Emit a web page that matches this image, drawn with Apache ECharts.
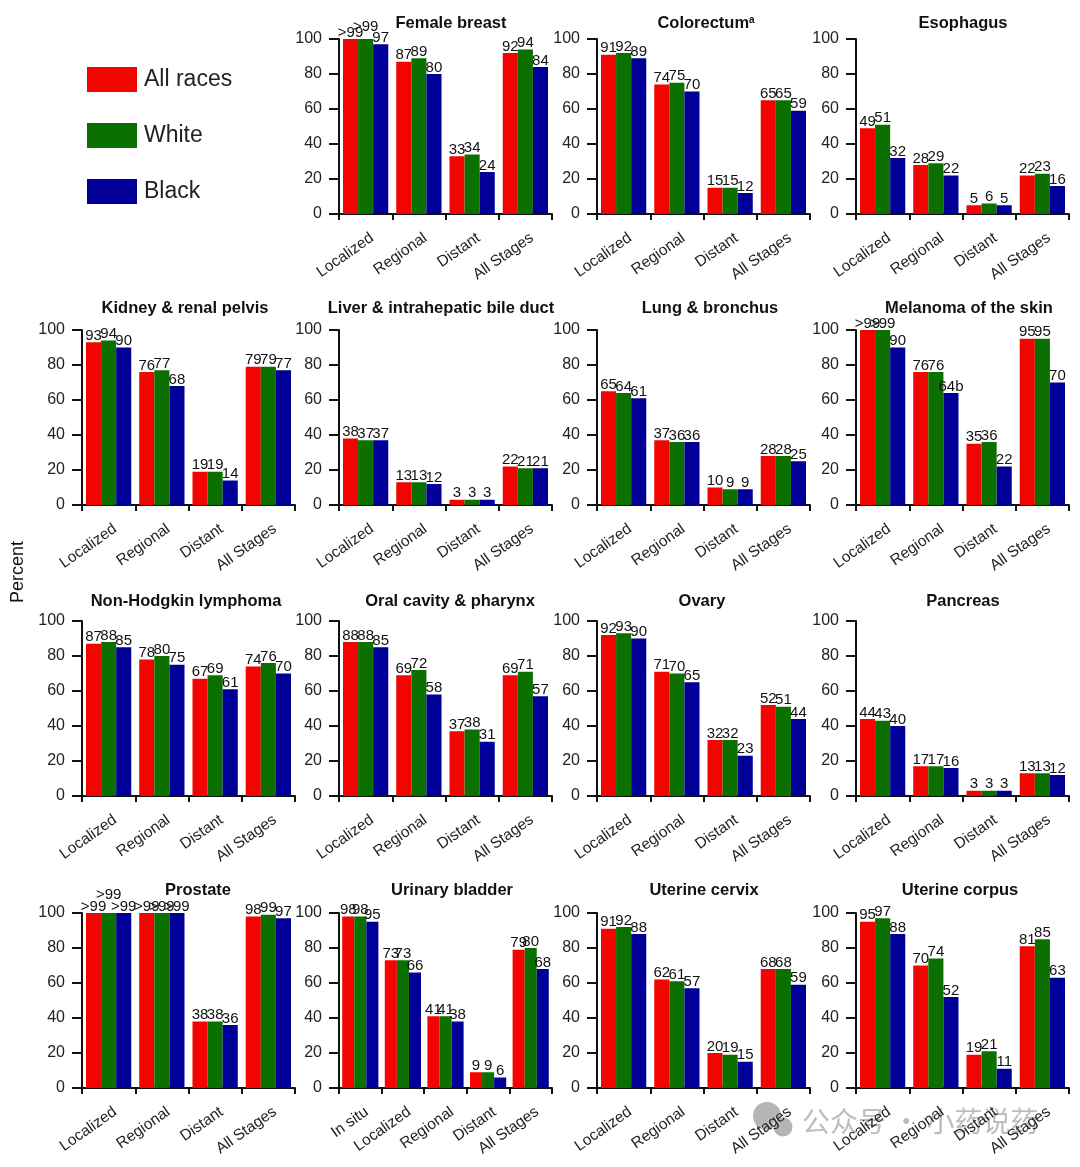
<!DOCTYPE html>
<html><head><meta charset="utf-8">
<style>html,body{margin:0;padding:0;background:#fff}#c{width:1080px;height:1167px}</style>
<script src="https://cdn.jsdelivr.net/npm/echarts@6/dist/echarts.min.js"></script>
</head><body><div id="c"></div>
<script>
const raceNames = ['All races', 'White', 'Black'];
const stages = ['Localized', 'Regional', 'Distant', 'All Stages'];
const bladderStages = ['In situ', 'Localized', 'Regional', 'Distant', 'All Stages'];

const femaleBreast = [[100,87,33,92],[100,89,34,94],[97,80,24,84]];
const colorectum   = [[91,74,15,65],[92,75,15,65],[89,70,12,59]];
const esophagus    = [[49,28,5,22],[51,29,6,23],[32,22,5,16]];
const kidney       = [[93,76,19,79],[94,77,19,79],[90,68,14,77]];
const liver        = [[38,13,3,22],[37,13,3,21],[37,12,3,21]];
const lung         = [[65,37,10,28],[64,36,9,28],[61,36,9,25]];
const melanoma     = [[100,76,35,95],[100,76,36,95],[90,64,22,70]];
const lymphoma     = [[87,78,67,74],[88,80,69,76],[85,75,61,70]];
const oral         = [[88,69,37,69],[88,72,38,71],[85,58,31,57]];
const ovary        = [[92,71,32,52],[93,70,32,51],[90,65,23,44]];
const pancreas     = [[44,17,3,13],[43,17,3,13],[40,16,3,12]];
const prostate     = [[100,100,38,98],[100,100,38,99],[100,100,36,97]];
const bladder      = [[98,73,41,9,79],[98,73,41,9,80],[95,66,38,6,68]];
const cervix       = [[91,62,20,68],[92,61,19,68],[88,57,15,59]];
const corpus       = [[95,70,19,81],[97,74,21,85],[88,52,11,63]];

// Panels in reading order: title, values, categories, grid column, grid row, title centre x
const panels = [
  ['{b|Female breast}', femaleBreast, stages, 1, 0, 451],
  ['{b|Colorectum}{s|a}', colorectum, stages, 2, 0, 706],
  ['{b|Esophagus}', esophagus, stages, 3, 0, 963],
  ['{b|Kidney & renal pelvis}', kidney, stages, 0, 1, 185],
  ['{b|Liver & intrahepatic bile duct}', liver, stages, 1, 1, 441],
  ['{b|Lung & bronchus}', lung, stages, 2, 1, 710],
  ['{b|Melanoma of the skin}', melanoma, stages, 3, 1, 969],
  ['{b|Non-Hodgkin lymphoma}', lymphoma, stages, 0, 2, 186],
  ['{b|Oral cavity & pharynx}', oral, stages, 1, 2, 450],
  ['{b|Ovary}', ovary, stages, 2, 2, 702],
  ['{b|Pancreas}', pancreas, stages, 3, 2, 963],
  ['{b|Prostate}', prostate, stages, 0, 3, 198],
  ['{b|Urinary bladder}', bladder, bladderStages, 1, 3, 452],
  ['{b|Uterine cervix}', cervix, stages, 2, 3, 704],
  ['{b|Uterine corpus}', corpus, stages, 3, 3, 960]
];

const colLeft = [82, 339, 597, 856];
const rowTop = [39, 330, 621, 913];
const titleTop = [15, 300, 593, 882];
const colors = ['#f40400', '#0b7000', '#000098'];
const font = '"Liberation Sans", Arial, sans-serif';

function labelFor(p, race, i, v) {
  if (p === melanoma && race === 2 && i === 1) return '64b';
  return v === 100 ? '>99' : String(v);
}
function raiseFor(p, race, i) {
  if (p === prostate && race === 1 && i === 0) return -12;
  if (p === femaleBreast && race === 1 && i === 0) return -6;
  return 0;
}

const option = {
  animation: false,
  backgroundColor: '#fff',
  textStyle: { fontFamily: font },
  legend: {
    data: raceNames, orient: 'vertical', left: 87, top: 67, padding: 0,
    itemWidth: 50, itemHeight: 25, itemGap: 31, icon: 'rect',
    selectedMode: false,
    textStyle: { fontSize: 23, color: '#222', fontFamily: font, padding: [3, 0, 0, 2] }
  },
  title: panels.map(p => ({
    text: p[0], left: p[5], top: titleTop[p[4]], textAlign: 'center', padding: 0,
    textStyle: { rich: {
      b: { fontSize: 16.5, fontWeight: 'bold', color: '#111', fontFamily: font },
      s: { fontSize: 10, fontWeight: 'bold', color: '#111', fontFamily: font, verticalAlign: 'top', padding: [0, 0, 6, 0] }
    } }
  })),
  grid: panels.map(p => ({ left: colLeft[p[3]], top: rowTop[p[4]], width: 213, height: 175 })),
  xAxis: panels.map((p, k) => ({
    gridIndex: k, type: 'category', data: p[2],
    axisLine: { lineStyle: { color: '#111', width: 2 } },
    axisTick: { show: true, length: 6, alignWithLabel: false, lineStyle: { color: '#111', width: 2 } },
    axisLabel: { rotate: 35, margin: 27, fontSize: 15.5, color: '#222', interval: 0, fontFamily: font, padding: [0, -8, 0, 0] }
  })),
  yAxis: panels.map((p, k) => ({
    gridIndex: k, type: 'value', min: 0, max: 100, interval: 20,
    splitLine: { show: false },
    axisLine: { show: true, lineStyle: { color: '#111', width: 2 } },
    axisTick: { show: true, length: 10, lineStyle: { color: '#111', width: 2 } },
    axisLabel: { margin: 17, fontSize: 16, color: '#222', fontFamily: font }
  })),
  series: panels.flatMap((p, k) => raceNames.map((name, r) => ({
    type: 'bar', name, xAxisIndex: k, yAxisIndex: k,
    barCategoryGap: '15%', barGap: 0, silent: true,
    itemStyle: { color: colors[r] },
    data: p[1][r].map((v, i) => ({
      value: v,
      label: { formatter: labelFor(p[1], r, i, v), offset: [0, raiseFor(p[1], r, i)] }
    })),
    label: { show: true, position: 'top', distance: -1, fontSize: 15, color: '#111', fontFamily: font }
  }))),
  graphic: [
    { type: 'text', x: 9, y: 603, rotation: Math.PI / 2, z: 5,
      style: { text: 'Percent', fontSize: 18, fill: '#111', fontFamily: font } },
    { type: 'text', x: 802, y: 1107, z: -1, silent: true,
      style: { text: '公众号 · 小药说药', fontSize: 28, fill: '#bcbcbc', fontFamily: '"Noto Sans CJK SC"' } },
    { type: 'circle', z: -1, silent: true, shape: { cx: 767, cy: 1116, r: 14 }, style: { fill: '#b5b5b5' } },
    { type: 'circle', z: -1, silent: true, shape: { cx: 783, cy: 1127, r: 10 }, style: { fill: '#b5b5b5', stroke: '#fff', lineWidth: 1 } }
  ]
};
echarts.init(document.getElementById('c'), null, { renderer: 'canvas' }).setOption(option);
</script></body></html>
